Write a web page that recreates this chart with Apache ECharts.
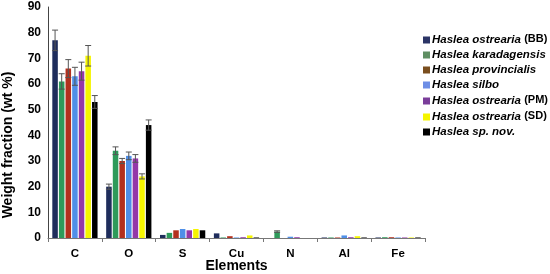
<!DOCTYPE html>
<html lang="en">
<head>
    <meta charset="UTF-8">
    <title>Weight fraction by element</title>
    <script src="https://cdn.jsdelivr.net/npm/echarts@6/dist/echarts.min.js"></script>
    <style>
        body { margin: 0; background: #fff; }
        #chart { width: 550px; height: 274px; }
    </style>
</head>
<body>
    <div id="chart"></div>
    <script>
        // data
        var elements = ['C', 'O', 'S', 'Cu', 'N', 'Al', 'Fe'];
        var yTicks = [0, 10, 20, 30, 40, 50, 60, 70, 80, 90];

        var names = ['BB', 'kar', 'prov', 'silbo', 'PM', 'SD', 'sp'];
        var legendLabels = [
            '{i|Haslea ostrearia} {n|(BB)}',
            '{i|Haslea karadagensis}',
            '{i|Haslea provincialis}',
            '{i|Haslea silbo}',
            '{i|Haslea ostrearia} {n|(PM)}',
            '{i|Haslea ostrearia} {n|(SD)}',
            '{i|Haslea sp. nov.}'
        ];

        var valBB    = [77, 20, 1.2, 1.8, 0, 0.2, 0.2];
        var valKar   = [61, 34, 2.0, 0.2, 2.5, 0.2, 0.3];
        var valProv  = [66, 30, 3.0, 0.7, 0, 0.2, 0.3];
        var valSilbo = [63, 32, 3.5, 0.2, 0.5, 1.0, 0.2];
        var valPM    = [65, 31, 3.0, 0.3, 0.3, 0.3, 0.2];
        var valSD    = [71, 24, 3.5, 1.0, 0, 0.7, 0.2];
        var valSp    = [53, 44, 3.0, 0.2, 0, 0.2, 0.2];

        var errBB    = [4, 1, 0, 0, 0, 0, 0];
        var errKar   = [3, 1.5, 0, 0, 0.3, 0, 0];
        var errProv  = [3.5, 1, 0, 0, 0, 0, 0];
        var errSilbo = [3.5, 1.5, 0, 0, 0, 0, 0];
        var errPM    = [3.5, 1.5, 0, 0, 0, 0, 0];
        var errSD    = [4, 1, 0, 0, 0, 0, 0];
        var errSp    = [2.5, 2, 0, 0, 0, 0, 0];

        var values = [valBB, valKar, valProv, valSilbo, valPM, valSD, valSp];
        var errors = [errBB, errKar, errProv, errSilbo, errPM, errSD, errSp];
        var colors = ['#1f2d5c', '#2e9a5a', '#b3301e', '#4f8fe8', '#9438a8', '#f5f500', '#000000'];
        var legendColors = ['#2b3566', '#5f8f63', '#7a4e1e', '#6d8ee6', '#7a3d9a', '#f5f500', '#000000'];

        var chart = echarts.init(document.getElementById('chart'));

        var catGap = 0.16, barGap = 0.2, nBars = 7;
        var font = 'Liberation Sans';

        var series = [];
        values.forEach(function (v, i) {
            series.push({
                name: names[i],
                type: 'bar',
                data: v,
                barCategoryGap: '16%',
                barGap: '20%',
                itemStyle: { color: colors[i] }
            });
        });

        // error bars drawn on top of the bars
        values.forEach(function (v, i) {
            var d = v.map(function (val, k) { return [k, val, errors[i][k]]; });
            series.push({
                type: 'custom',
                name: names[i] + '_err',
                data: d,
                z: 10,
                renderItem: function (params, api) {
                    var e = api.value(2);
                    if (!e) return;
                    var band = api.size([1, 0])[0];
                    var usable = band * (1 - catGap);
                    var bw = usable / (nBars + (nBars - 1) * barGap);
                    var off = -usable / 2 + i * bw * (1 + barGap) + bw / 2;
                    var top = api.coord([api.value(0), api.value(1) + e]);
                    var bot = api.coord([api.value(0), api.value(1) - e]);
                    var x = top[0] + off;
                    var cap = 3;
                    var st = { stroke: '#555', lineWidth: 1 };
                    return {
                        type: 'group',
                        children: [
                            { type: 'line', shape: { x1: x, y1: top[1], x2: x, y2: bot[1] }, style: st },
                            { type: 'line', shape: { x1: x - cap, y1: top[1], x2: x + cap, y2: top[1] }, style: st },
                            { type: 'line', shape: { x1: x - cap, y1: bot[1], x2: x + cap, y2: bot[1] }, style: st }
                        ]
                    };
                }
            });
        });

        var option = {
            animation: false,
            grid: { left: 48, right: 125, top: 7, bottom: 36, outerBoundsMode: 'none', containLabel: false },
            // y axis title sits a bit lower than the axis middle in the original
            graphic: [{
                type: 'text',
                x: 8,
                y: 145,
                rotation: Math.PI / 2,
                style: {
                    text: 'Weight fraction (wt %)',
                    font: 'bold 14px "Liberation Sans"',
                    fill: '#000',
                    textAlign: 'center',
                    textVerticalAlign: 'middle'
                }
            }],
            legend: {
                data: names.map(function (n, i) {
                    return { name: n, itemStyle: { color: legendColors[i] } };
                }),
                orient: 'vertical',
                left: 418,
                top: 28,
                itemWidth: 7,
                itemHeight: 7,
                itemGap: 3,
                icon: 'rect',
                formatter: function (name) {
                    return legendLabels[names.indexOf(name)];
                },
                textStyle: {
                    color: '#000',
                    padding: [0, 0, 0, -3],
                    rich: {
                        i: { fontStyle: 'italic', fontWeight: 'bold', fontSize: 11.5, fontFamily: font, color: '#000' },
                        n: { fontWeight: 'bold', fontSize: 11, fontFamily: font, color: '#000', padding: [0, 0, 3, 0] }
                    }
                }
            },
            xAxis: {
                type: 'category',
                data: elements,
                name: 'Elements',
                nameLocation: 'middle',
                nameGap: 21,
                nameMoveOverlap: false,
                nameTextStyle: { fontWeight: 'bold', fontSize: 14, fontFamily: font, color: '#000' },
                axisLine: { lineStyle: { color: '#777' } },
                axisTick: { show: true, length: 4, lineStyle: { color: '#777' } },
                axisLabel: { fontWeight: 'bold', fontSize: 11.5, fontFamily: font, color: '#000', margin: 10 }
            },
            yAxis: {
                type: 'value',
                min: 0,
                max: 90,
                interval: 10,
                axisLine: { show: true, lineStyle: { color: '#444' } },
                axisTick: { show: false },
                splitLine: { show: false },
                axisLabel: {
                    fontWeight: 'bold', fontSize: 12, fontFamily: font, color: '#000', margin: 7,
                    formatter: function (v) { return yTicks.indexOf(v) >= 0 ? String(v) : ''; }
                }
            },
            series: series
        };

        chart.setOption(option);
    </script>
</body>
</html>
